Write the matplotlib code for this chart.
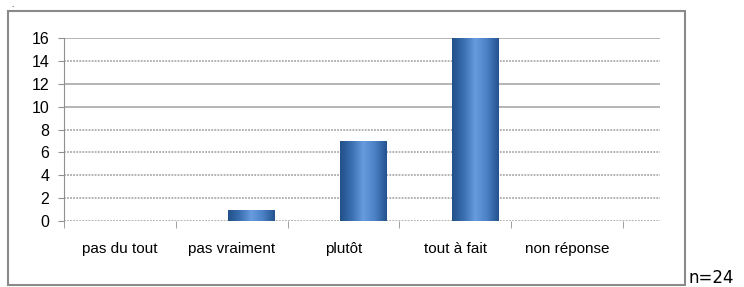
import numpy as np
import matplotlib.pyplot as plt
from matplotlib.patches import Rectangle
from matplotlib.colors import LinearSegmentedColormap

categories = ['pas du tout', 'pas vraiment', 'plutôt', 'tout à fait', 'non réponse']
values = [0, 1, 7, 16, 0]
yticks = [0, 2, 4, 6, 8, 10, 12, 14, 16]
solid_grid = [16, 12, 10]

plt.rcParams['font.family'] = ['Liberation Sans', 'DejaVu Sans']

fig = plt.figure(figsize=(7.44, 2.87), dpi=100)
ax = fig.add_axes([64/744, 1-221/287, 596/744, 183/287])

x = np.arange(len(categories))
# 3D-style chart: bars sit a bit right of the category centre
bars = ax.bar(x + 0.18, values, width=0.42, color='#4a7fc0', zorder=3)

# cylinder-like shading
cmap = LinearSegmentedColormap.from_list('cyl', ['#22508a', '#3a6fb0', '#679ddf', '#4a80c4', '#24538f'])
grad = np.linspace(0, 1, 100).reshape(1, -1)
for b in bars:
    if b.get_height() <= 0:
        continue
    x0, w, h = b.get_x(), b.get_width(), b.get_height()
    im = ax.imshow(grad, cmap=cmap, extent=[x0, x0 + w, 0, h], aspect='auto', zorder=4)
    im.set_clip_path(b)

ax.set_xlim(-0.5, len(categories) - 0.5 + 0.33)
ax.set_ylim(0, 16)
ax.set_yticks(yticks)
ax.set_xticks(x)
ax.set_xticklabels(categories, fontsize=11)
ax.tick_params(axis='x', length=0, pad=15)
ax.set_xticks(np.arange(-0.5, len(categories)), minor=True)
ax.tick_params(axis='x', which='minor', length=5, color='#909090')
ax.tick_params(axis='y', labelsize=11.5, length=4.5, color='#909090', pad=6)

for v in yticks:
    if v in solid_grid:
        ax.axhline(v, color='#a8a8a8', linewidth=1.2, zorder=1)
    else:
        ax.axhline(v, color='#ababab', linewidth=1.3, linestyle=(0, (1, 0.7)), zorder=1)
for s in ['top', 'right', 'bottom']:
    ax.spines[s].set_visible(False)
ax.spines['left'].set_color('#909090')

frame = Rectangle((8/744, 1-285/287), 677/744, 274/287, transform=fig.transFigure,
                  fill=False, edgecolor='#8a8a8a', linewidth=1.5)
fig.patches.append(frame)

fig.text(688/744, 1-283/287, 'n=24', fontsize=12, va='baseline', ha='left',
         family=['DejaVu Sans'])
fig.text(11/744, 1-7/287, '.', fontsize=6, va='baseline', ha='left')

fig.savefig('out.png', dpi=100)
